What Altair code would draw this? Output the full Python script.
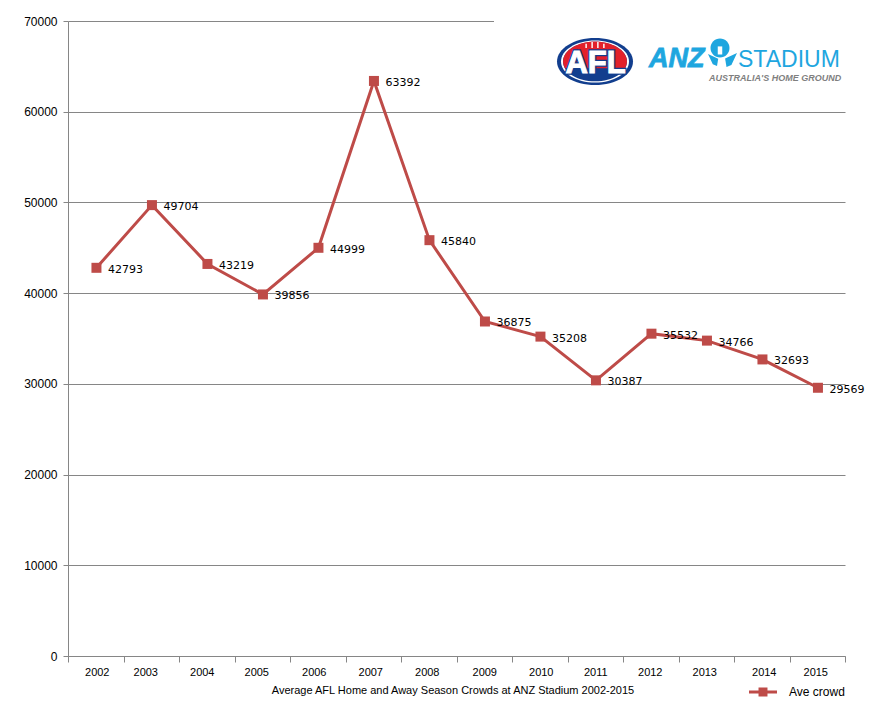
import altair as alt
import pandas as pd

years = ["2002","2003","2004","2005","2006","2007","2008","2009","2010","2011","2012","2013","2014","2015"]
crowds = [42793,49704,43219,39856,44999,63392,45840,36875,35208,30387,35532,34766,32693,29569]
series = ["Ave crowd"] * len(years)
x_title = "Average AFL Home and Away Season Crowds at ANZ Stadium 2002-2015"
y_ticks = [0,10000,20000,30000,40000,50000,60000,70000]

RED = "#BE4B48"
GREY = "#868686"
ELLIPSE = "M-1,0 A1,0.62 0 1,1 1,0 A1,0.62 0 1,1 -1,0 Z"
RED_TOP = "M-0.94,0.21 A1,0.62 0 1,1 0.94,0.21 Z"
POSTS = ("M-0.8,-0.1 H-0.68 V0.25 H-0.8 Z M-0.3,-0.25 H-0.18 V0.25 H-0.3 Z "
         "M0.18,-0.25 H0.3 V0.25 H0.18 Z M0.68,-0.1 H0.8 V0.25 H0.68 Z")
CIRCLE = "M-1,0 A1,1 0 1,1 1,0 A1,1 0 1,1 -1,0 Z"
KEYHOLE = "M-0.5,-0.8 H0.5 V1 H-0.5 Z"
LEGEND_SYM = "M-1,-0.1 H-0.32 V-0.32 H0.32 V-0.1 H1 V0.1 H0.32 V0.32 H-0.32 V0.1 H-1 Z"
LABEL_SHIFT = ("{'2002':1,'2003':-6,'2004':-5,'2005':-6,'2006':-4,'2007':-3,'2008':-2,"
               "'2009':0,'2010':1,'2011':0,'2012':-1,'2013':-2,'2014':2,'2015':-2}[datum.value]")

df = pd.DataFrame({"year": years, "crowd": crowds, "series": series})

x = alt.X("year:N", sort=years, title=x_title,
          scale=alt.Scale(paddingInner=0, paddingOuter=0),
          axis=alt.Axis(labelAngle=0, tickBand="extent", labelFont="Liberation Sans", labelFontSize=11,
                        labelColor="#000", labelPadding=4, labelOffset=alt.expr(LABEL_SHIFT),
                        tickSize=6, tickColor=GREY, domainColor=GREY,
                        grid=False, titleFont="Liberation Sans", titleFontSize=11, titleFontWeight="normal",
                        titleColor="#000", titlePadding=7, titleX=384.5))
y = alt.Y("crowd:Q", title=None, scale=alt.Scale(domain=[0,70000], nice=False),
          axis=alt.Axis(values=y_ticks, labelFont="Liberation Sans", labelFontSize=12, labelColor="#000",
                        labelPadding=6, tickSize=5, tickColor=GREY, domainColor=GREY,
                        grid=True, gridColor=GREY, gridWidth=1, gridOpacity=1, format="d"))

line = alt.Chart(df).mark_line(color=RED, strokeWidth=3, xOffset=0.7).encode(x=x, y=y)
pts = alt.Chart(df).mark_point(shape="square", filled=True, size=100, opacity=1, xOffset=0.7).encode(
    x=x, y=y,
    color=alt.Color("series:N", title=None, scale=alt.Scale(domain=["Ave crowd"], range=[RED]),
                    legend=alt.Legend(orient="none", legendX=681, legendY=657, title=None,
                                      symbolType=LEGEND_SYM, symbolSize=784, symbolStrokeWidth=0,
                                      symbolOpacity=1, labelFont="Liberation Sans", labelFontSize=12,
                                      labelColor="#000", labelOffset=12, padding=0)))
labels = alt.Chart(df).mark_text(align="left", baseline="middle", dx=12.2, dy=2,
                                 font="DejaVu Sans", fontSize=11, color="#000").encode(
    x=x, y=y, text=alt.Text("crowd:Q", format="d"))

one = pd.DataFrame({"k": [0]})
OX, OY = 68, 21
def v(n): return alt.value(n)
def shape(path, px, py, sz, color):
    return alt.Chart(one).mark_point(shape=path, filled=True, size=sz, color=color, opacity=1, strokeWidth=0).encode(x=v(px-OX), y=v(py-OY))
def txt(s, px, py, fs, color, font="Liberation Sans", **kw):
    return alt.Chart(one).mark_text(text=s, font=font, fontSize=fs, color=color, align="left", baseline="alphabetic", **kw).encode(x=v(px-OX), y=v(py-OY))
def afl(stroke, sw):
    return alt.Chart(one).mark_text(text="AFL", font="Liberation Sans", fontSize=31, fontWeight="bold", color="white",
                                    stroke=stroke, strokeWidth=sw, align="center", baseline="alphabetic").encode(x=v(595.5-OX), y=v(72.5-OY))

cover = alt.Chart(one).mark_rect(color="white").encode(x=v(494-OX), x2=v(860-OX), y=v(-2), y2=v(2))
logo = [
    shape(ELLIPSE, 595, 61.5, 5776, "#123E8E"),
    shape(ELLIPSE, 595, 61.5, 4624, "white"),
    shape(ELLIPSE, 595, 61.5, 4096, "#123E8E"),
    shape(RED_TOP, 595, 61.5, 4096, "#E3202A"),
    shape(POSTS, 595, 45, 576, "white"),
    afl("#123E8E", 3.5),
    afl("white", 1),
    txt("ANZ", 649, 67, 27, "#1EA6DF", fontWeight="bold", fontStyle="italic", stroke="#1EA6DF", strokeWidth=0.8),
    shape(CIRCLE, 720, 48, 361, "#1EA6DF"),
    shape(KEYHOLE, 720, 50, 81, "white"),
    shape("M-1,-1 L0.7,-0.2 L0.5,1 L-0.2,0.7 Z", 714, 60, 144, "#1EA6DF"),
    shape("M1,-1 L-0.7,-0.2 L-0.5,1 L0.2,0.7 Z", 730, 60, 196, "#1EA6DF"),
    txt("STADIUM", 738, 67, 23, "#1EA6DF"),
    txt("AUSTRALIA'S HOME GROUND", 709, 81, 9, "#7F7F7F", fontWeight="bold", fontStyle="italic"),
]

chart = alt.layer(line, pts, labels, cover, *logo).properties(
    width=777, height=635,
    background="white",
    autosize=alt.AutoSizeParams(type="none"),
    padding={"left": 60, "top": 13, "right": 40, "bottom": 53},
).configure_view(stroke=None)
chart.save("out.html", embed_options={"renderer": "svg", "actions": False})
